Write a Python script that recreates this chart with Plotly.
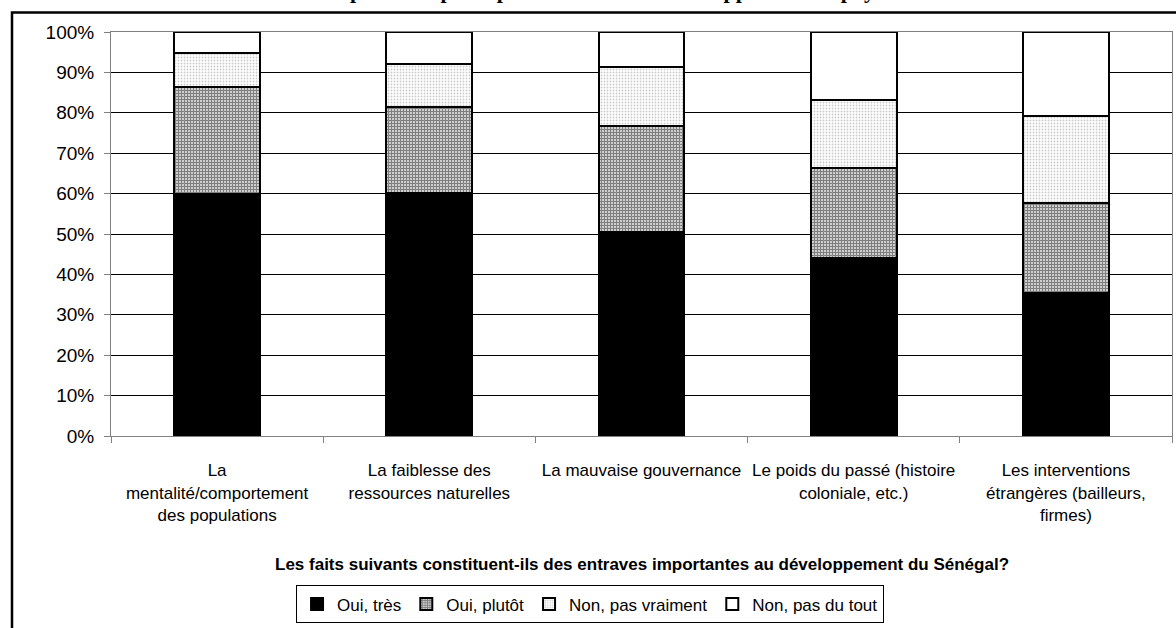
import plotly.graph_objects as go

# categories (x axis), values in %
categories = [
    "La<br>mentalité/comportement<br>des populations",
    "La faiblesse des<br>ressources naturelles",
    "La mauvaise gouvernance",
    "Le poids du passé (histoire<br>coloniale, etc.)",
    "Les interventions<br>étrangères (bailleurs,<br>firmes)",
]
oui_tres = [59.8, 60.1, 50.5, 44.1, 35.4]
oui_plutot = [26.6, 21.4, 26.3, 22.3, 22.2]
non_pas_vraiment = [8.4, 10.6, 14.5, 16.8, 21.5]
non_pas_du_tout = [5.2, 7.9, 8.7, 16.8, 20.9]

y_ticks = list(range(0, 101, 10))
y_ticklabels = [f"{v}%" for v in y_ticks]

FONT = "Liberation Sans, Arial, sans-serif"

fig = go.Figure()

# series: name, values, fill, pattern
series = [
    ("Oui, très", oui_tres, "black", None),
    ("Oui, plutôt", oui_plutot, "white",
     dict(shape="+", fgcolor="black", bgcolor="white", size=3, solidity=0.7)),
    ("Non, pas vraiment", non_pas_vraiment, "white",
     dict(shape=".", fgcolor="#999999", bgcolor="white", size=3, solidity=0.3)),
    ("Non, pas du tout", non_pas_du_tout, "white", None),
]

for name, vals, color, pattern in series:
    marker = dict(color=color, line=dict(color="black", width=2))
    if pattern:
        marker["pattern"] = pattern
    fig.add_trace(go.Bar(x=categories, y=vals, name=name, marker=marker))

fig.update_layout(
    barmode="stack",
    bargap=0.595,
    width=1176,
    height=628,
    margin=dict(l=111, r=4, t=32, b=182),
    paper_bgcolor="white",
    plot_bgcolor="white",
    font=dict(family=FONT, size=17, color="black"),
    showlegend=True,
    legend=dict(
        orientation="h",
        x=0.4515, xanchor="center",
        y=-0.37, yanchor="top",
        bordercolor="black", borderwidth=1,
        font=dict(size=17),
        traceorder="normal",
        itemclick=False,
    ),
)

fig.update_xaxes(
    type="category",
    tickson="boundaries",
    ticks="outside",
    ticklen=6,
    tickcolor="#808080",
    ticklabelstandoff=19,
    showline=True,
    linecolor="#808080",
    linewidth=1,
    mirror=True,
    showgrid=False,
    tickfont=dict(size=17),
)

fig.update_yaxes(
    range=[0, 100],
    tickvals=y_ticks,
    ticktext=y_ticklabels,
    ticks="outside",
    ticklen=6,
    tickcolor="#808080",
    ticklabelstandoff=6,
    showline=True,
    linecolor="#808080",
    linewidth=1,
    mirror=True,
    showgrid=True,
    gridcolor="black",
    gridwidth=1,
    tickfont=dict(size=19),
)

# axis title as annotation, positioned like the original
fig.add_annotation(
    text="<b>Les faits suivants constituent-ils des entraves importantes au développement du Sénégal?</b>",
    xref="paper", yref="paper", x=0.5, y=-0.319,
    xanchor="center", yanchor="middle",
    showarrow=False, font=dict(family=FONT, size=17),
)

# chart title, mostly cut off by the top edge in the original
fig.add_annotation(
    text="<b>Perception des principales entraves au développement du pays</b>",
    xref="paper", yref="paper", x=0.452, y=(446 - 4) / 414,
    xanchor="center", yanchor="bottom",
    showarrow=False, font=dict(family="Liberation Serif, Times New Roman, serif", size=22),
)

# outer chart frame
fig.add_shape(
    type="rect", xref="paper", yref="paper",
    x0=(12 - 111) / 1061, x1=1.05,
    y0=-0.7, y1=1 + 20 / 414,
    line=dict(color="black", width=2.5),
    fillcolor="rgba(0,0,0,0)",
    layer="below",
)

# page has a default body margin; drop it so the chart sits at the top-left corner
fig.write_html(
    "out.html",
    config={"displayModeBar": False},
    post_script="document.body.style.margin='0';",
)
